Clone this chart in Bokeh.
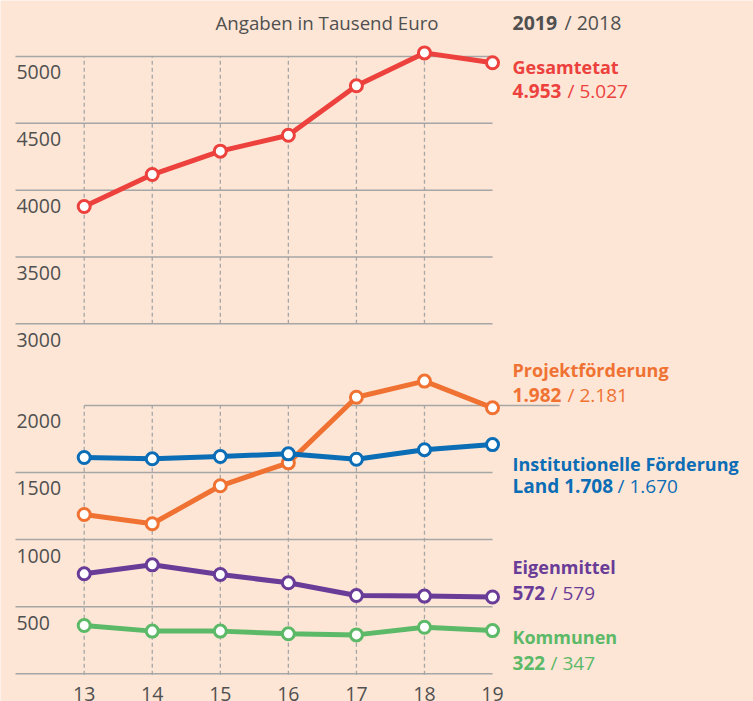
from bokeh.plotting import figure
from bokeh.models import Range1d, Label
from bokeh.core.properties import value
from bokeh.embed import file_html
from bokeh.resources import INLINE

# ---------------- data ----------------
years = [13, 14, 15, 16, 17, 18, 19]
year_labels = ["13", "14", "15", "16", "17", "18", "19"]

gesamtetat = [3878, 4117, 4292, 4411, 4781, 5027, 4953]
projektfoerderung = [1187, 1118, 1401, 1572, 2061, 2181, 1982]
institutionell = [1612, 1602, 1619, 1639, 1599, 1670, 1708]
eigenmittel = [745, 812, 740, 678, 583, 579, 572]
kommunen = [360, 318, 318, 298, 290, 347, 322]

top_ticks = [5000, 4500, 4000, 3500, 3000]
low_ticks = [2000, 1500, 1000, 500]
low_base = 0

title_text = "Angaben in Tausend Euro"
legend_bold = "2019"
legend_rest = "/ 2018"

# ---------------- style ----------------
BG = "#FDE6D6"
GRID = "#A6A6A6"
TXT = "#505050"
FONT = "Open Sans"
W, H = 753, 701

def de(v):
    return f"{v:,}".replace(",", ".")

p = figure(width=W, height=H, output_backend="svg", toolbar_location=None,
           x_range=Range1d(11.770, 22.835), y_range=Range1d(174.6, 5418.9),
           x_axis_location=None, y_axis_location=None, min_border=0,
           background_fill_color=BG, border_fill_color=BG, outline_line_color=None)
p.extra_y_ranges = {"low": Range1d(-206.4, 5017.1)}
p.xgrid.visible = False
p.ygrid.visible = False

GX0 = 11.99
x_last = years[-1]

# horizontal grid lines
p.segment(x0=[GX0] * len(top_ticks), y0=top_ticks, x1=[x_last] * len(top_ticks), y1=top_ticks,
          line_color=GRID, line_width=1.5)
low_lines = low_ticks + [low_base]
x0s = [years[0] if t == low_ticks[0] else GX0 for t in low_lines]
x1s = [19.985 if t == low_ticks[0] else x_last for t in low_lines]
p.segment(x0=x0s, y0=low_lines, x1=x1s, y1=low_lines, line_color=GRID, line_width=1.5,
          y_range_name="low")

# vertical dashed lines
vx = years[:-1]
p.segment(x0=vx, y0=[top_ticks[-1]] * len(vx), x1=vx, y1=[top_ticks[0]] * len(vx),
          line_color=GRID, line_width=1.3, line_dash="4 3")
p.segment(x0=vx, y0=[low_base - 8] * len(vx), x1=vx, y1=[low_ticks[0]] * len(vx),
          line_color=GRID, line_width=1.3, line_dash="4 3", y_range_name="low")

# tick labels
p.text(x=[GX0] * len(top_ticks), y=top_ticks, text=[str(t) for t in top_ticks],
       text_font=value(FONT), text_font_size="19.5px", text_color=TXT,
       text_baseline="middle", x_offset=1, y_offset=16)
p.text(x=[GX0] * len(low_ticks), y=low_ticks, text=[str(t) for t in low_ticks],
       text_font=value(FONT), text_font_size="19.5px", text_color=TXT,
       text_baseline="middle", x_offset=1, y_offset=16, y_range_name="low")
p.text(x=years, y=[low_base] * len(years), text=year_labels,
       text_font=value(FONT), text_font_size="19.5px", text_color=TXT,
       text_baseline="middle", text_align="center", y_offset=20, y_range_name="low")

# series
series = [
    # name, data, colour, range, prefix, name dy, value dy, x-offset of 2nd part
    ("Gesamtetat", gesamtetat, "#EC413D", "default", "", 4, 28, 55),
    ("Projektförderung", projektfoerderung, "#F07233", "low", "", -38, -13, 55),
    ("Institutionelle Förderung", institutionell, "#0B6DB5", "low", "Land ", 19, 41, 105),
    ("Eigenmittel", eigenmittel, "#693C98", "low", "", -30, -4, 38),
    ("Kommunen", kommunen, "#5CB968", "low", "", 6, 32, 38),
]

for name, data, col, rng, prefix, dy1, dy2, xo in series:
    p.line(years, data, line_color=col, line_width=5, y_range_name=rng, line_join="round")
    p.scatter(years, data, size=12, fill_color="white", line_color=col, line_width=3,
              y_range_name=rng)
    p.text(x=[x_last], y=[data[-1]], text=[name], text_font=value(FONT), text_font_size="18px",
           text_font_style="bold", text_color=col, text_baseline="middle",
           x_offset=20, y_offset=dy1, y_range_name=rng)
    p.text(x=[x_last], y=[data[-1]], text=[prefix + de(data[-1])], text_font=value(FONT),
           text_font_size="19px", text_font_style="bold", text_color=col,
           text_baseline="middle", x_offset=20, y_offset=dy2, y_range_name=rng)
    p.text(x=[x_last], y=[data[-1]], text=["/ " + de(data[-2])], text_font=value(FONT),
           text_font_size="19px", text_color=col, text_baseline="middle",
           x_offset=20 + xo, y_offset=dy2, y_range_name=rng)

# header texts
p.add_layout(Label(x=215, y=H - 22, x_units="screen", y_units="screen", text=title_text,
                   text_font=FONT, text_font_size="18.7px", text_color=TXT, text_baseline="middle"))
p.add_layout(Label(x=512, y=H - 22, x_units="screen", y_units="screen", text=legend_bold,
                   text_font=FONT, text_font_size="19.5px", text_font_style="bold",
                   text_color=TXT, text_baseline="middle"))
p.add_layout(Label(x=564, y=H - 22, x_units="screen", y_units="screen", text=legend_rest,
                   text_font=FONT, text_font_size="19.5px", text_color=TXT, text_baseline="middle"))

html = file_html(p, INLINE)
html = html.replace("<body>", f'<body style="background:{BG};">', 1)
open("out.html", "w").write(html)
